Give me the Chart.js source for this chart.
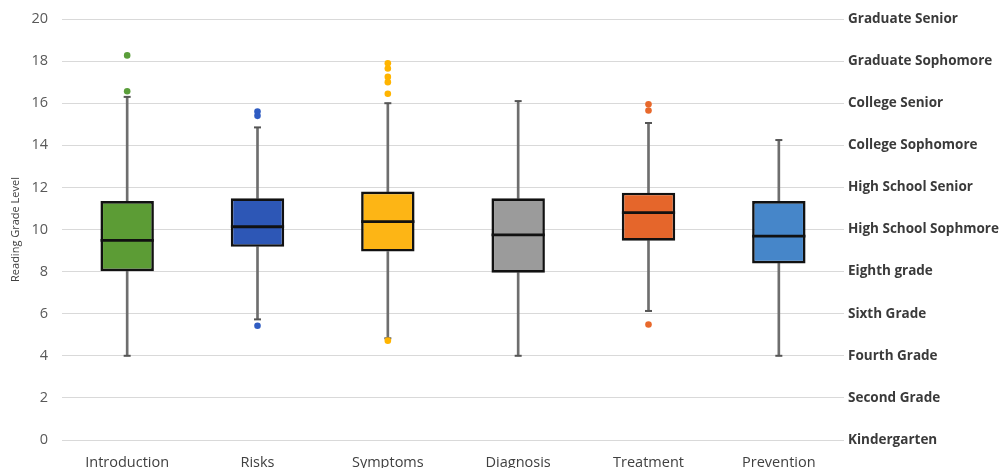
<!DOCTYPE html>
<html>
<head>
<meta charset="utf-8">
<script src="https://cdn.jsdelivr.net/npm/chart.js@4.4.1/dist/chart.umd.min.js"></script>
<style>
  html, body { margin: 0; padding: 0; background: #ffffff; }
  #wrap { width: 1003px; height: 468px; position: relative; }
</style>
</head>
<body>
<div id="wrap"><canvas id="c" width="1003" height="468"></canvas></div>
<script>
// ---- Data ----
const categories = ['Introduction', 'Risks', 'Symptoms', 'Diagnosis', 'Treatment', 'Prevention'];
const whiskerMin = [4.0, 5.73, 4.83, 4.0, 6.13, 4.0];
const q1Values = [8.02, 9.18, 8.95, 7.95, 9.47, 8.39];
const medianValues = [9.48, 10.13, 10.37, 9.74, 10.8, 9.69];
const q3Values = [11.35, 11.48, 11.8, 11.48, 11.75, 11.35];
const whiskerMax = [16.3, 14.85, 16.0, 16.1, 15.06, 14.25];
const outliersIntroduction = [18.27, 16.57];
const outliersRisks = [15.6, 15.4, 5.43];
const outliersSymptoms = [17.9, 17.65, 17.25, 17.0, 16.45, 4.72];
const outliersDiagnosis = [];
const outliersTreatment = [15.95, 15.65, 5.49];
const outliersPrevention = [];
const gradeLabels = ['Kindergarten', 'Second Grade', 'Fourth Grade', 'Sixth Grade', 'Eighth grade',
  'High School Sophmore', 'High School Senior', 'College Sophomore', 'College Senior',
  'Graduate Sophomore', 'Graduate Senior'];
const yTicks = [0, 2, 4, 6, 8, 10, 12, 14, 16, 18, 20];

// ---- Styles ----
const boxColors = ['#5c9c35', '#2d57b6', '#fdb515', '#9b9b9b', '#e5662b', '#4686c9'];
const dotColors = ['#5a9e3a', '#2f5cc2', '#ffb400', '#9b9b9b', '#e8692c', '#4686c9'];
const outlierLists = [outliersIntroduction, outliersRisks, outliersSymptoms, outliersDiagnosis, outliersTreatment, outliersPrevention];

const whiskerColor = '#6e6e6e';

const lowerWhisker = categories.map((c, i) => [whiskerMin[i], q1Values[i]]);
const upperWhisker = categories.map((c, i) => [q3Values[i], whiskerMax[i]]);
const boxRange = categories.map((c, i) => [q1Values[i], q3Values[i]]);
const medianPoints = categories.map((c, i) => ({ x: c, y: medianValues[i] }));

const capPoints = [];
categories.forEach((c, i) => {
  capPoints.push({ x: c, y: whiskerMin[i] });
  capPoints.push({ x: c, y: whiskerMax[i] });
});

const outlierDatasets = categories.map((c, i) => ({
  type: 'scatter',
  data: outlierLists[i].map(v => ({ x: c, y: v })),
  pointRadius: 3.3,
  pointBackgroundColor: dotColors[i],
  pointBorderColor: dotColors[i],
  pointBorderWidth: 0,
  order: 0
}));

const whiskerStyle = {
  type: 'bar',
  backgroundColor: whiskerColor,
  borderWidth: 0,
  barThickness: 2,
  grouped: false,
  order: 5
};

function fixVerticalPadding(s, width) {
  s.width = width;
  s.paddingTop = 0;
  s.paddingBottom = 0;
}

new Chart(document.getElementById('c'), {
  type: 'bar',
  data: {
    labels: categories,
    datasets: [
      Object.assign({ data: lowerWhisker }, whiskerStyle),
      Object.assign({ data: upperWhisker }, whiskerStyle),
      {
        type: 'scatter',
        data: capPoints,
        pointStyle: 'line',
        pointRadius: 3.5,
        pointBorderWidth: 2,
        pointBorderColor: '#555555',
        order: 4
      },
      {
        type: 'bar',
        data: boxRange,
        backgroundColor: boxColors,
        borderColor: '#111111',
        borderWidth: 2.6,
        borderSkipped: false,
        grouped: false,
        categoryPercentage: 1,
        barPercentage: 0.41,
        order: 2
      },
      {
        type: 'scatter',
        data: medianPoints,
        pointStyle: 'line',
        pointRadius: 26.6,
        pointBorderWidth: 2.8,
        pointBorderColor: '#111111',
        order: 1
      },
      ...outlierDatasets
    ]
  },
  options: {
    responsive: false,
    animation: false,
    events: [],
    layout: { autoPadding: false, padding: { top: 19, left: 0, right: 0, bottom: 0 } },
    plugins: { legend: { display: false }, tooltip: { enabled: false } },
    scales: {
      x: {
        type: 'category',
        labels: categories,
        offset: true,
        grid: { display: false },
        border: { display: false },
        ticks: {
          color: '#404040',
          font: { family: 'Open Sans', size: 14.5 },
          padding: 6,
          maxRotation: 0
        },
        afterFit: (s) => { s.height = 28; }
      },
      y: {
        position: 'left',
        min: 0, max: 20,
        stacked: false,
        afterBuildTicks: (s) => { s.ticks = yTicks.map(v => ({ value: v })); },
        grid: { color: '#d9d9d9', lineWidth: 1, drawTicks: false },
        border: { display: false },
        ticks: {
          color: '#595959',
          font: { family: 'Open Sans', size: 14.5 },
          padding: 14
        },
        title: {
          display: true,
          text: 'Reading Grade Level',
          color: '#404040',
          font: { family: 'Open Sans', size: 11 },
          padding: { top: 9, bottom: 0 }
        },
        afterFit: (s) => fixVerticalPadding(s, 62)
      },
      y2: {
        position: 'right',
        min: 0, max: 20,
        afterBuildTicks: (s) => { s.ticks = yTicks.map(v => ({ value: v })); },
        grid: { display: false, drawTicks: false },
        border: { display: false },
        ticks: {
          color: '#3a3a3a',
          font: { family: 'Open Sans', size: 13.5, weight: 'bold' },
          padding: 4,
          callback: (v) => gradeLabels[yTicks.indexOf(v)]
        },
        afterFit: (s) => fixVerticalPadding(s, 159)
      }
    }
  }
});
</script>
</body>
</html>
